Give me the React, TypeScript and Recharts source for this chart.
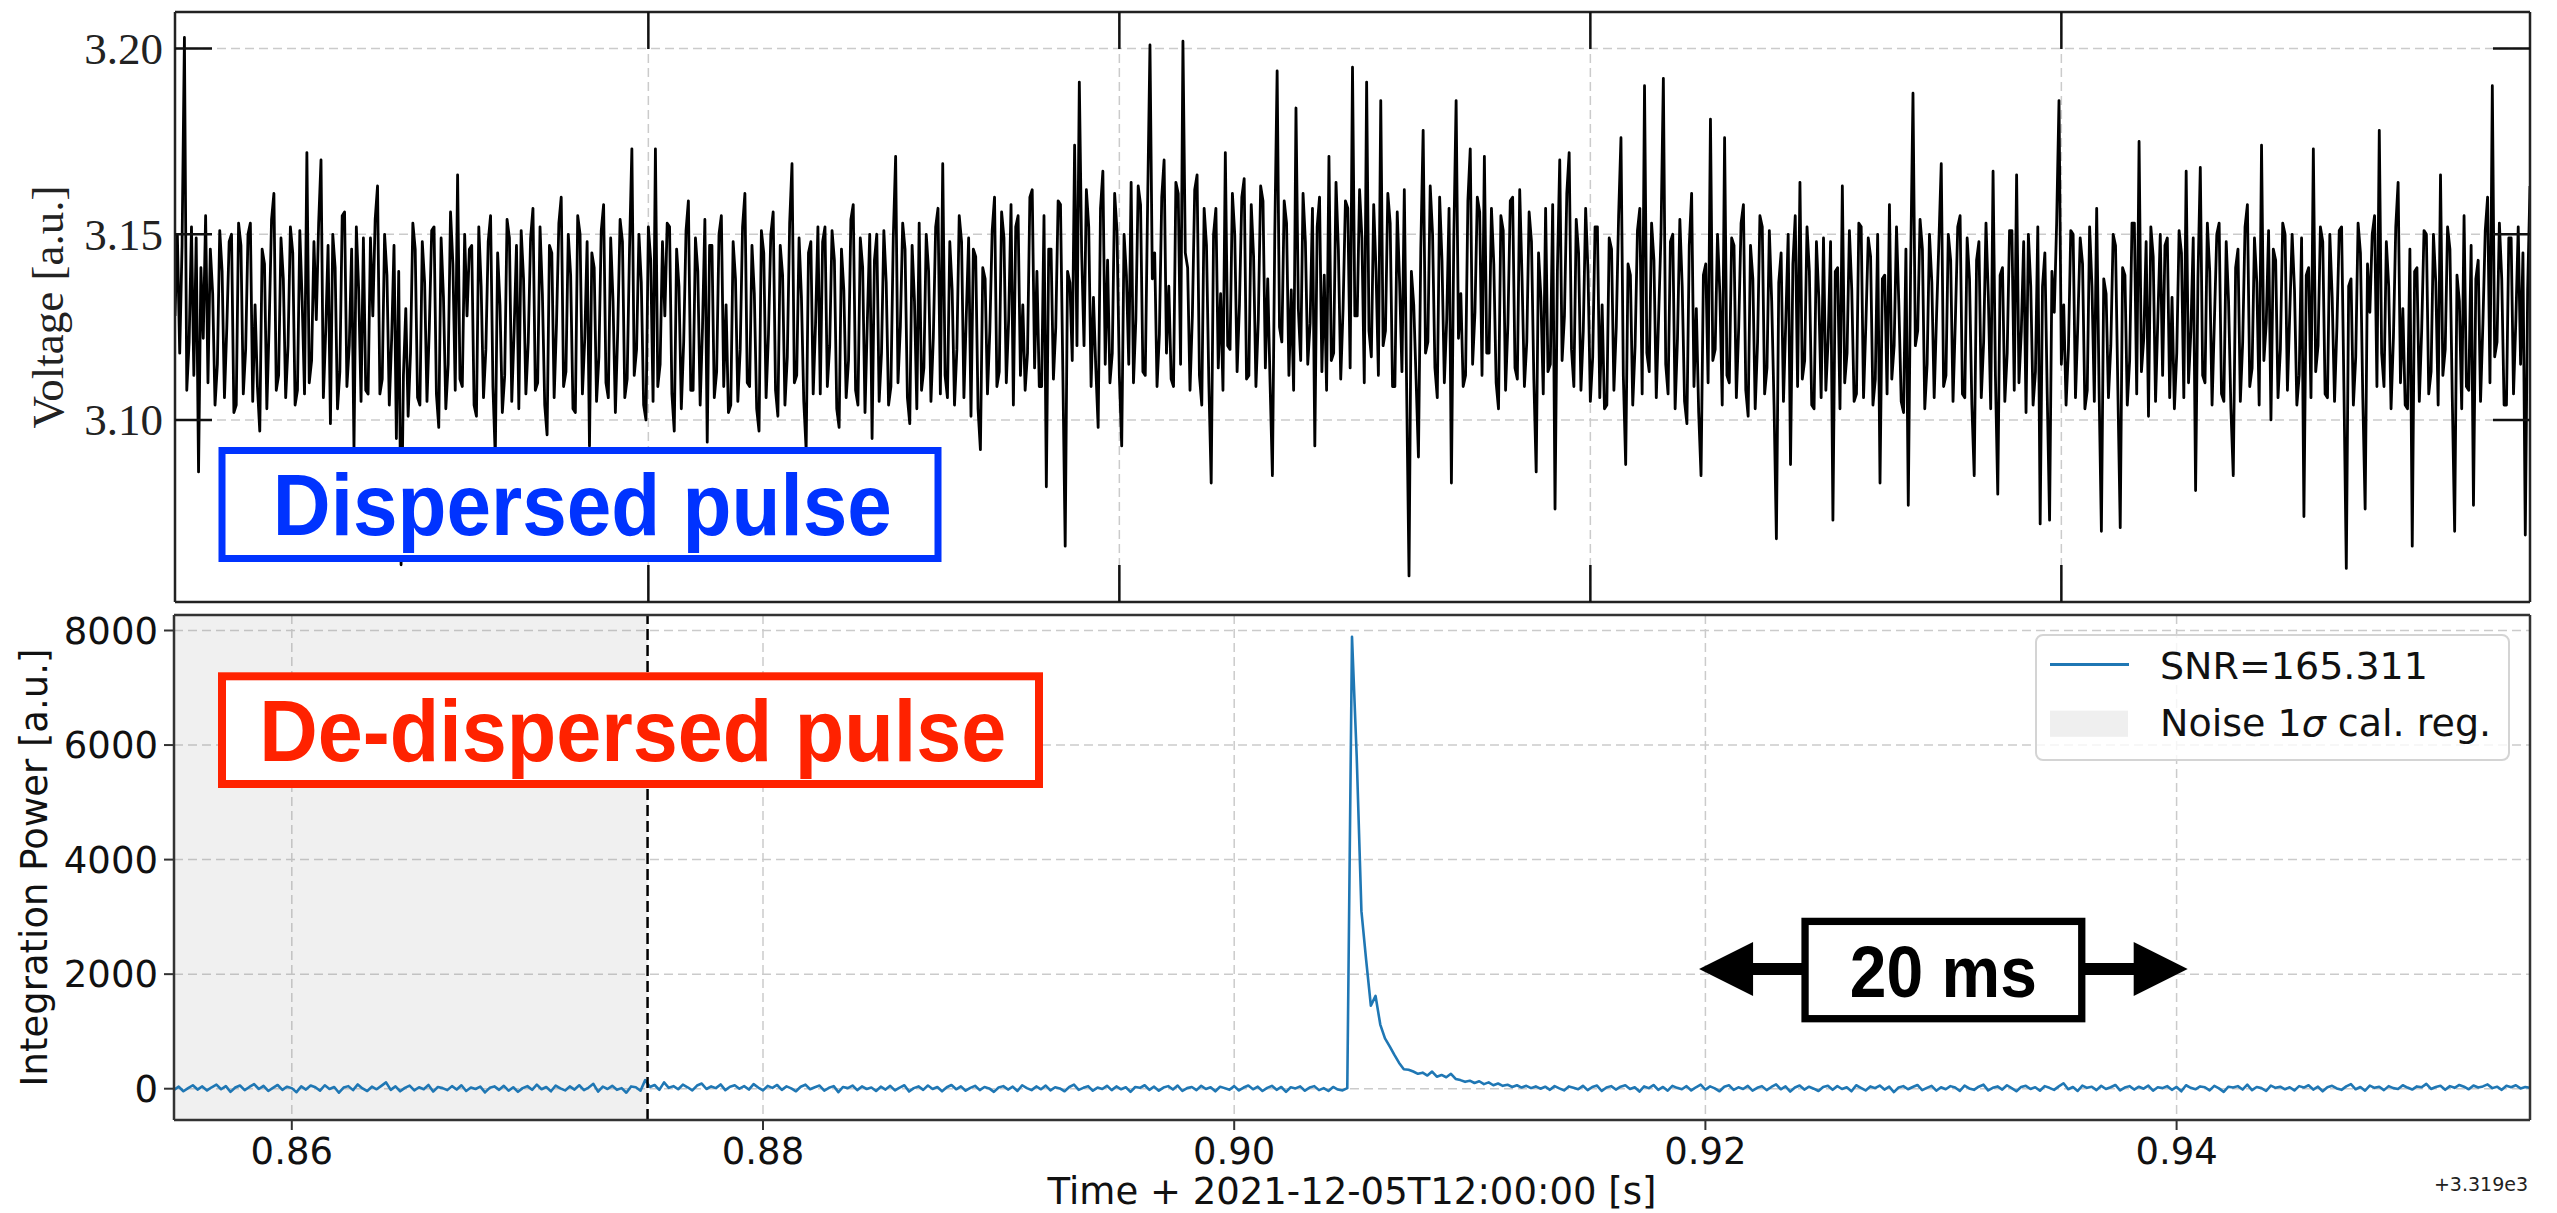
import React from "react";
import {
  LineChart,
  Line,
  XAxis,
  YAxis,
  CartesianGrid,
  ReferenceArea,
  ReferenceLine,
  Legend,
} from "recharts";

// sample grid shared by both panels (seconds after 3319 s)
const T_START = 0.855;
const T_STEP = 0.0002;

// top panel: raw voltage, dispersed pulse (samples on the T_STEP grid)
const voltage = [
  3.128, 3.118, 3.203, 3.121, 3.112, 3.086, 3.122, 3.110, 3.134, 3.115, 3.140, 3.125, 3.150, 3.104, 3.147, 3.119, 3.153, 3.131, 3.097, 3.142, 3.126, 3.161, 3.112, 3.138, 3.120,
  3.145, 3.108, 3.132, 3.172, 3.116, 3.127, 3.170, 3.124, 3.099, 3.141, 3.113, 3.156, 3.120, 3.092, 3.135, 3.149, 3.107, 3.128, 3.163, 3.111, 3.139, 3.122, 3.095, 3.061, 3.130,
  3.118, 3.146, 3.104, 3.137, 3.125, 3.152, 3.098, 3.133, 3.115, 3.142, 3.166, 3.109, 3.128, 3.147, 3.101, 3.136, 3.119, 3.155, 3.090, 3.131, 3.112, 3.149, 3.124, 3.103, 3.138,
  3.121, 3.157, 3.110, 3.134, 3.096, 3.145, 3.126, 3.160, 3.113, 3.139, 3.102, 3.150, 3.122, 3.093, 3.141, 3.117, 3.158, 3.106, 3.132, 3.124, 3.148, 3.111, 3.173, 3.119, 3.137,
  3.100, 3.143, 3.173, 3.115, 3.128, 3.152, 3.097, 3.136, 3.121, 3.159, 3.108, 3.140, 3.125, 3.094, 3.147, 3.113, 3.155, 3.131, 3.104, 3.138, 3.119, 3.161, 3.109, 3.134, 3.097,
  3.145, 3.123, 3.156, 3.101, 3.139, 3.117, 3.169, 3.112, 3.133, 3.092, 3.148, 3.126, 3.107, 3.152, 3.120, 3.143, 3.098, 3.135, 3.116, 3.158, 3.104, 3.141, 3.127, 3.095, 3.150,
  3.118, 3.137, 3.109, 3.171, 3.125, 3.146, 3.099, 3.132, 3.153, 3.114, 3.140, 3.122, 3.157, 3.169, 3.106, 3.135, 3.119, 3.148, 3.128, 3.101, 3.144, 3.092, 3.138, 3.124, 3.160,
  3.113, 3.149, 3.127, 3.104, 3.155, 3.131, 3.118, 3.162, 3.140, 3.109, 3.082, 3.146, 3.125, 3.158, 3.066, 3.137, 3.174, 3.191, 3.120, 3.152, 3.133, 3.098, 3.167, 3.143, 3.118,
  3.151, 3.093, 3.139, 3.164, 3.127, 3.158, 3.112, 3.201, 3.145, 3.123, 3.170, 3.136, 3.109, 3.161, 3.202, 3.141, 3.128, 3.166, 3.104, 3.147, 3.083, 3.157, 3.134, 3.172, 3.119,
  3.150, 3.131, 3.165, 3.112, 3.144, 3.127, 3.159, 3.138, 3.085, 3.194, 3.121, 3.153, 3.135, 3.184, 3.116, 3.148, 3.126, 3.093, 3.160, 3.139, 3.171, 3.118, 3.146, 3.130, 3.157,
  3.195, 3.128, 3.149, 3.191, 3.117, 3.140, 3.186, 3.124, 3.153, 3.109, 3.137, 3.162, 3.058, 3.131, 3.090, 3.178, 3.121, 3.150, 3.106, 3.143, 3.127, 3.083, 3.186, 3.134, 3.112,
  3.173, 3.129, 3.156, 3.171, 3.118, 3.142, 3.103, 3.151, 3.126, 3.160, 3.111, 3.138, 3.121, 3.148, 3.086, 3.133, 3.157, 3.115, 3.076, 3.170, 3.128, 3.172, 3.109, 3.145, 3.124,
  3.140, 3.117, 3.152, 3.131, 3.104, 3.146, 3.125, 3.176, 3.088, 3.139, 3.120, 3.157, 3.190, 3.113, 3.143, 3.128, 3.192, 3.107, 3.150, 3.122, 3.136, 3.099, 3.161, 3.130, 3.085,
  3.142, 3.181, 3.119, 3.134, 3.176, 3.110, 3.147, 3.125, 3.158, 3.101, 3.138, 3.121, 3.152, 3.114, 3.132, 3.068, 3.145, 3.127, 3.088, 3.155, 3.164, 3.116, 3.140, 3.103, 3.133,
  3.149, 3.122, 3.073, 3.141, 3.163, 3.118, 3.135, 3.107, 3.152, 3.126, 3.144, 3.111, 3.083, 3.139, 3.158, 3.120, 3.131, 3.102, 3.077, 3.188, 3.124, 3.146, 3.115, 3.137, 3.128,
  3.169, 3.112, 3.143, 3.127, 3.155, 3.106, 3.138, 3.085, 3.148, 3.121, 3.133, 3.167, 3.080, 3.141, 3.118, 3.151, 3.166, 3.124, 3.102, 3.136, 3.113, 3.072, 3.145, 3.073, 3.129,
  3.186, 3.131, 3.119, 3.150, 3.126, 3.142, 3.108, 3.136, 3.157, 3.070, 3.134, 3.120, 3.147, 3.071, 3.139, 3.116, 3.153, 3.175, 3.122, 3.101, 3.144, 3.128, 3.112, 3.149, 3.133,
  3.118, 3.145, 3.167, 3.124, 3.081, 3.168, 3.110, 3.140, 3.127, 3.153, 3.105, 3.132, 3.085, 3.146, 3.121, 3.158, 3.114, 3.137, 3.174, 3.126, 3.100, 3.143, 3.119, 3.150, 3.129,
  3.135, 3.112, 3.074, 3.141, 3.173, 3.120, 3.148, 3.106, 3.133, 3.125, 3.152, 3.060, 3.138, 3.117, 3.145, 3.076, 3.129, 3.155, 3.178, 3.109, 3.136, 3.122, 3.164, 3.130, 3.103,
  3.066, 3.141, 3.124, 3.150, 3.113, 3.137, 3.166, 3.119, 3.146, 3.070, 3.132, 3.155, 3.108, 3.077, 3.143, 3.126, 3.160, 3.190, 3.121, 3.138, 3.104, 3.149, 3.127, 3.115, 3.069, 3.163,
];

// voltage samples that fall half a step after each of the above (the dense band)
const voltageMid = [
  3.150, 3.147, 3.108, 3.152, 3.149, 3.141, 3.155, 3.146, 3.104, 3.151, 3.106, 3.148, 3.102, 3.153, 3.107, 3.150, 3.105, 3.109, 3.146, 3.103, 3.154, 3.108, 3.149, 3.106, 3.152,
  3.104, 3.151, 3.107, 3.110, 3.148, 3.153, 3.106, 3.147, 3.150, 3.103, 3.155, 3.109, 3.146, 3.152, 3.105, 3.108, 3.149, 3.154, 3.107, 3.150, 3.104, 3.147, 3.140, 3.112, 3.101,
  3.153, 3.106, 3.148, 3.105, 3.151, 3.107, 3.149, 3.103, 3.156, 3.108, 3.111, 3.150, 3.146, 3.104, 3.152, 3.106, 3.148, 3.109, 3.145, 3.102, 3.154, 3.105, 3.147, 3.151, 3.107,
  3.149, 3.108, 3.152, 3.104, 3.147, 3.106, 3.153, 3.109, 3.150, 3.103, 3.155, 3.107, 3.148, 3.145, 3.105, 3.151, 3.110, 3.149, 3.102, 3.154, 3.106, 3.146, 3.112, 3.150, 3.104,
  3.152, 3.105, 3.109, 3.148, 3.153, 3.107, 3.146, 3.103, 3.151, 3.108, 3.149, 3.104, 3.154, 3.147, 3.106, 3.150, 3.109, 3.102, 3.148, 3.105, 3.152, 3.110, 3.147, 3.103, 3.151,
  3.106, 3.150, 3.108, 3.147, 3.104, 3.153, 3.110, 3.149, 3.105, 3.145, 3.107, 3.152, 3.148, 3.109, 3.151, 3.103, 3.146, 3.106, 3.154, 3.108, 3.149, 3.102, 3.150, 3.143, 3.105,
  3.151, 3.104, 3.149, 3.110, 3.153, 3.106, 3.147, 3.103, 3.108, 3.150, 3.105, 3.152, 3.107, 3.112, 3.148, 3.104, 3.155, 3.106, 3.149, 3.146, 3.103, 3.141, 3.107, 3.151, 3.109,
  3.156, 3.110, 3.158, 3.152, 3.112, 3.108, 3.160, 3.114, 3.109, 3.155, 3.146, 3.111, 3.159, 3.113, 3.140, 3.116, 3.120, 3.145, 3.162, 3.109, 3.114, 3.157, 3.115, 3.110, 3.161,
  3.112, 3.150, 3.115, 3.110, 3.163, 3.113, 3.158, 3.138, 3.109, 3.160, 3.118, 3.111, 3.164, 3.115, 3.145, 3.108, 3.162, 3.112, 3.157, 3.110, 3.150, 3.114, 3.108, 3.120, 3.161,
  3.113, 3.160, 3.111, 3.158, 3.109, 3.163, 3.114, 3.110, 3.150, 3.125, 3.159, 3.112, 3.108, 3.130, 3.161, 3.115, 3.157, 3.152, 3.113, 3.108, 3.116, 3.164, 3.111, 3.159, 3.114,
  3.128, 3.162, 3.110, 3.124, 3.158, 3.112, 3.120, 3.161, 3.109, 3.156, 3.113, 3.108, 3.140, 3.111, 3.146, 3.118, 3.163, 3.114, 3.160, 3.110, 3.157, 3.148, 3.122, 3.109, 3.159,
  3.115, 3.160, 3.112, 3.118, 3.157, 3.110, 3.155, 3.108, 3.159, 3.114, 3.162, 3.109, 3.156, 3.111, 3.145, 3.107, 3.113, 3.158, 3.140, 3.116, 3.161, 3.119, 3.154, 3.108, 3.157,
  3.105, 3.152, 3.106, 3.103, 3.149, 3.108, 3.155, 3.112, 3.142, 3.104, 3.151, 3.107, 3.118, 3.153, 3.106, 3.150, 3.115, 3.148, 3.103, 3.154, 3.105, 3.147, 3.109, 3.102, 3.139,
  3.110, 3.116, 3.150, 3.104, 3.112, 3.149, 3.106, 3.153, 3.108, 3.147, 3.103, 3.155, 3.107, 3.151, 3.104, 3.137, 3.105, 3.150, 3.142, 3.109, 3.111, 3.152, 3.104, 3.148, 3.106,
  3.108, 3.148, 3.140, 3.103, 3.110, 3.151, 3.105, 3.153, 3.106, 3.149, 3.104, 3.150, 3.138, 3.107, 3.111, 3.152, 3.105, 3.146, 3.141, 3.120, 3.154, 3.103, 3.150, 3.106, 3.148,
  3.109, 3.150, 3.105, 3.152, 3.107, 3.149, 3.104, 3.143, 3.106, 3.153, 3.103, 3.112, 3.139, 3.105, 3.151, 3.108, 3.110, 3.148, 3.150, 3.104, 3.152, 3.136, 3.107, 3.140, 3.153,
  3.115, 3.104, 3.151, 3.106, 3.149, 3.103, 3.152, 3.105, 3.109, 3.138, 3.106, 3.150, 3.108, 3.141, 3.104, 3.153, 3.107, 3.113, 3.148, 3.152, 3.105, 3.150, 3.147, 3.106, 3.103,
  3.151, 3.106, 3.110, 3.149, 3.138, 3.112, 3.153, 3.104, 3.150, 3.107, 3.148, 3.103, 3.141, 3.105, 3.152, 3.109, 3.149, 3.104, 3.116, 3.151, 3.146, 3.106, 3.153, 3.108, 3.150,
  3.104, 3.149, 3.139, 3.106, 3.113, 3.152, 3.107, 3.150, 3.105, 3.151, 3.108, 3.136, 3.104, 3.153, 3.106, 3.142, 3.150, 3.109, 3.118, 3.148, 3.103, 3.152, 3.110, 3.104, 3.146,
  3.140, 3.105, 3.151, 3.107, 3.150, 3.104, 3.112, 3.152, 3.106, 3.139, 3.103, 3.109, 3.147, 3.138, 3.105, 3.151, 3.110, 3.117, 3.153, 3.104, 3.149, 3.107, 3.152, 3.145, 3.135,
];

// bottom panel: integrated power after de-dispersion
const power = [
  -20, 35, -45, 10, 60, -15, 40, -30, 25, 70, -10, 45, -55, 20, 55, -25, 30, 80, -5, 50, -40, 15, 65, -20, 35,
  10, -60, 40, -15, 55, 25, -35, 60, -5, 30, -70, 20, 45, -25, 75, 5, -40, 35, -10, 50, 110, -20, 40, -45, 15,
  55, -30, 25, -10, 65, -50, 30, 10, -25, 45, -15, 60, -40, 20, -5, 35, -65, 15, 40, -20, 50, -35, 25, -55, 10,
  45, -20, 70, -10, 30, -45, 55, 5, -30, 40, -15, 60, -25, 20, 85, -50, 35, -5, 50, -20, 10, -70, 40, 25, -35,
  150, 30, 65, -20, 110, 15, 45, -10, 70, 25, -30, 55, 90, -5, 40, 10, 75, -25, 35, 60, 0, 45, -15, 80, 20,
  -30, 50, 15, 65, -20, 40, 5, -45, 35, 70, -10, 25, 55, -35, 15, 45, -60, 30, 10, 55, -25, 40, -5, 20, -40,
  35, -15, 50, -30, 20, 60, -50, 10, 40, -20, 55, -5, 30, -45, 25, 65, -10, 40, -35, 15, 50, -25, 30, 5, -55,
  20, 45, -15, 35, -40, 60, 10, -25, 40, -10, 55, -30, 25, 5, -45, 30, 70, -20, 15, 45, -35, 20, -5, 50, -25,
  40, -10, 25, -55, 30, 15, 60, -20, 35, -35, 20, 45, -15, 55, -40, 10, 30, -25, 50, -5, 25, -45, 35, 10, -20,
  45, -30, 20, 55, -10, 35, -40, 15, 50, -20, 30, -55, 25, 5, 40, -35, 20, 45, -25, 10, -40, 30, -15, -30, 10,
  7890, 5800, 3100, 2250, 1450, 1620, 1120, 880, 740, 590, 450, 340, 330, 300, 260, 280, 230, 300, 210, 240, 200, 260, 170, 150, 120,
  140, 100, 130, 80, 110, 60, 90, 50, 70, 30, 60, 20, 50, 10, 40, 0, 35, -20, 45, 5, -30, 40, 15, -10, 50,
  -25, 30, 55, -40, 20, 45, -15, 35, 60, -5, 25, -50, 40, 10, 65, -20, 30, -35, 50, 15, -10, 45, -30, 25, 70,
  -15, 40, 5, -45, 35, 60, -20, 25, -5, 50, -35, 15, 45, -25, 30, 75, -10, 40, -50, 20, 55, -15, 35, 0, -40,
  30, 50, -20, 45, -5, 25, -45, 60, 15, -30, 40, 10, 55, -15, 35, -60, 20, 45, -10, 30, 65, -25, 15, 50, -35,
  25, -10, 45, 20, -40, 55, 5, -20, 35, 70, -30, 15, 40, -15, 60, 10, -45, 30, 50, -5, 25, -35, 45, 15, -20,
  40, 95, -10, 30, -40, 55, 15, 35, -25, 50, -5, 25, 65, -30, 20, 45, -15, 35, 0, 55, -35, 25, 10, 45, -20,
  30, -45, 60, 15, -10, 40, 25, -30, 50, 5, -55, 35, 20, 45, -15, 70, -25, 30, 10, -40, 55, 15, 35, -10, 25,
  -30, 45, 20, 60, -15, 35, -45, 25, 50, 5, -20, 40, 80, -10, 30, -35, 55, 15, 35, -25, 45, 10, -5, 60, 20,
  -15, 40, 25, 85, -5, 30, 50, -20, 45, 15, 65, 35, -10, 55, 20, 40, 75, 10, 35, -20, 50, 25, 60, 5, 30, 15,
];

const topTicksX = [0.8751, 0.8951, 0.9151, 0.9351];
const topTicksY = [3.1, 3.15, 3.2];
const bottomTicksX = [0.86, 0.88, 0.9, 0.92, 0.94];
const bottomTicksY = [0, 2000, 4000, 6000, 8000];
const noiseRegion = [0.855, 0.8751];
const scaleBarX = [0.91973, 0.94047]; // the "20 ms" marker
const scaleBarY = 2090;
const SNR = 165.311;

const topData = voltage.flatMap((v, i) => {
  const rows = [{ t: T_START + i * T_STEP, v }];
  if (i < voltageMid.length) rows.push({ t: T_START + (i + 0.5) * T_STEP, v: voltageMid[i] });
  return rows;
});
const bottomData = power.map((p, i) => ({ t: T_START + i * T_STEP, p }));

const serif = "'Liberation Serif', 'Times New Roman', serif";
const sans = "'DejaVu Sans', sans-serif";
const boldSans = "'Liberation Sans', Arial, sans-serif";
const BLUE = "#0033ff";
const RED = "#ff2200";
const GRID = "#cbcbcb";

// top panel ticks: long and pointing inwards, labels outside
function VoltLeftTick({ x, y, payload }: any) {
  return (
    <g>
      <line x1={x} x2={x + 37} y1={y} y2={y} stroke="#111" strokeWidth={2.5} />
      <text x={x - 12} y={y} dy="0.34em" textAnchor="end" fontFamily={serif} fontSize={45} fill="#222">
        {Number(payload.value).toFixed(2)}
      </text>
    </g>
  );
}
function VoltRightTick({ x, y }: any) {
  return <line x1={x - 37} x2={x} y1={y} y2={y} stroke="#111" strokeWidth={2.5} />;
}
function TimeTopTick({ x, y }: any) {
  return <line x1={x} x2={x} y1={y} y2={y + 37} stroke="#111" strokeWidth={2.5} />;
}
function TimeBottomTick({ x, y }: any) {
  return <line x1={x} x2={x} y1={y - 37} y2={y} stroke="#111" strokeWidth={2.5} />;
}

// double arrow with the boxed "20 ms" in the middle
function ScaleBar(props: any) {
  const { x1, x2, y1 } = props;
  const y = y1;
  const mid = (x1 + x2) / 2;
  const head = 54;
  const half = 27;
  return (
    <g>
      <line x1={x1 + head - 1} x2={x2 - head + 1} y1={y} y2={y} stroke="#000" strokeWidth={12} />
      <polygon points={`${x1},${y} ${x1 + head},${y - half} ${x1 + head},${y + half}`} fill="#000" />
      <polygon points={`${x2},${y} ${x2 - head},${y - half} ${x2 - head},${y + half}`} fill="#000" />
      <rect x={mid - 138.3} y={y - 47.6} width={276.7} height={97.3} fill="#fff" stroke="#000" strokeWidth={7.3} />
      <text
        x={mid}
        y={y + 27.7}
        textAnchor="middle"
        fontFamily={boldSans}
        fontWeight={700}
        fontSize={73}
        fill="#000"
        textLength={187}
        lengthAdjust="spacingAndGlyphs"
      >
        20 ms
      </text>
    </g>
  );
}

function LegendBox({ payload }: any) {
  const name = payload && payload[0] ? payload[0].value : `SNR=${SNR}`;
  return (
    <div
      style={{
        width: 475,
        height: 127,
        boxSizing: "border-box",
        border: "2px solid #d4d4d4",
        borderRadius: 8,
        background: "rgba(255,255,255,0.8)",
        position: "relative",
      }}
    >
      <svg width={475} height={127} style={{ position: "absolute", left: -2, top: -2 }}>
        <line x1={15} x2={94} y1={30.5} y2={30.5} stroke="#1f77b4" strokeWidth={3} />
        <rect x={15} y={76.6} width={78} height={26.2} fill="#efefef" />
        <text x={125} y={45} fontFamily={sans} fontSize={38} fill="#111">
          {name}
        </text>
        <text x={125} y={101.5} fontFamily={sans} fontSize={38} fill="#111">
          Noise 1<tspan fontStyle="italic">σ</tspan> cal. reg.
        </text>
      </svg>
    </div>
  );
}

export default function App() {
  return (
    <div
      style={{
        position: "absolute",
        left: 0,
        top: 0,
        width: 2557,
        height: 1213,
        overflow: "hidden",
        background: "#fff",
      }}
    >
      {/* TOP: dispersed pulse */}
      <div style={{ position: "absolute", left: 0, top: 0 }}>
        <LineChart width={2557} height={615} data={topData} margin={{ top: 11, right: 26, bottom: 12, left: 0 }}>
          <CartesianGrid stroke={GRID} strokeDasharray="9 5" strokeWidth={1.5} />
          <XAxis
            dataKey="t"
            type="number"
            domain={[0.855, 0.955]}
            allowDataOverflow
            ticks={topTicksX}
            height={1}
            tickSize={0}
            tickMargin={0}
            tickLine={false}
            tick={<TimeBottomTick />}
            axisLine={{ stroke: "#222", strokeWidth: 2.5 }}
          />
          <XAxis
            xAxisId="t"
            orientation="top"
            dataKey="t"
            type="number"
            domain={[0.855, 0.955]}
            allowDataOverflow
            ticks={topTicksX}
            height={1}
            tickSize={0}
            tickMargin={0}
            tickLine={false}
            tick={<TimeTopTick />}
            axisLine={{ stroke: "#222", strokeWidth: 2.5 }}
          />
          <YAxis
            type="number"
            domain={[3.05097, 3.20986]}
            allowDataOverflow
            ticks={topTicksY}
            width={175}
            tickSize={0}
            tickMargin={0}
            tickLine={false}
            tick={<VoltLeftTick />}
            axisLine={{ stroke: "#222", strokeWidth: 2.5 }}
            label={{
              value: "Voltage [a.u.]",
              angle: -90,
              position: "insideLeft",
              offset: 47,
              fontFamily: serif,
              fontSize: 45,
              fill: "#222",
              style: { textAnchor: "middle" },
            }}
          />
          <YAxis
            yAxisId="r"
            orientation="right"
            type="number"
            domain={[3.05097, 3.20986]}
            allowDataOverflow
            ticks={topTicksY}
            width={1}
            tickSize={0}
            tickMargin={0}
            tickLine={false}
            tick={<VoltRightTick />}
            axisLine={{ stroke: "#222", strokeWidth: 2.5 }}
          />
          <Line
            dataKey="v"
            stroke="#000"
            strokeWidth={2.8}
            strokeLinejoin="round"
            dot={false}
            activeDot={false}
            isAnimationActive={false}
          />
          <Line
            xAxisId="t"
            yAxisId="r"
            dataKey="v"
            stroke="none"
            dot={false}
            activeDot={false}
            legendType="none"
            isAnimationActive={false}
          />
        </LineChart>
      </div>

      {/* BOTTOM: de-dispersed pulse */}
      <div style={{ position: "absolute", left: 0, top: 600 }}>
        <LineChart width={2557} height={613} data={bottomData} margin={{ top: 14, right: 26, bottom: 0, left: 0 }}>
          <CartesianGrid stroke={GRID} strokeDasharray="9 5" strokeWidth={1.5} />
          <ReferenceArea x1={noiseRegion[0]} x2={noiseRegion[1]} fill="#808080" fillOpacity={0.12} stroke="none" />
          <XAxis
            dataKey="t"
            type="number"
            domain={[0.855, 0.955]}
            allowDataOverflow
            ticks={bottomTicksX}
            tickFormatter={(v: number) => v.toFixed(2)}
            height={93}
            tickSize={10}
            tickMargin={8}
            tickLine={{ stroke: "#333", strokeWidth: 2 }}
            axisLine={{ stroke: "#333", strokeWidth: 2.5 }}
            tick={{ fontFamily: sans, fontSize: 37, fill: "#111" }}
            label={{
              value: "Time + 2021-12-05T12:00:00 [s]",
              position: "insideBottom",
              offset: 9,
              fontFamily: sans,
              fontSize: 37,
              fill: "#111",
            }}
          />
          <XAxis
            xAxisId="top"
            orientation="top"
            type="number"
            domain={[0.855, 0.955]}
            allowDataOverflow
            height={1}
            tick={false}
            tickLine={false}
            axisLine={{ stroke: "#333", strokeWidth: 2.5 }}
          />
          <YAxis
            type="number"
            domain={[-546.5, 8270.6]}
            allowDataOverflow
            ticks={bottomTicksY}
            width={174}
            tickSize={10}
            tickMargin={6}
            tickLine={{ stroke: "#333", strokeWidth: 2 }}
            axisLine={{ stroke: "#333", strokeWidth: 2.5 }}
            tick={{ fontFamily: sans, fontSize: 37, fill: "#111" }}
            label={{
              value: "Integration Power [a.u.]",
              angle: -90,
              position: "insideLeft",
              offset: 34,
              fontFamily: sans,
              fontSize: 37,
              fill: "#111",
              style: { textAnchor: "middle" },
            }}
          />
          <YAxis
            yAxisId="right"
            orientation="right"
            type="number"
            domain={[-546.5, 8270.6]}
            allowDataOverflow
            width={1}
            tick={false}
            tickLine={false}
            axisLine={{ stroke: "#333", strokeWidth: 2.5 }}
          />
          <Line
            dataKey="p"
            name={`SNR=${SNR}`}
            stroke="#1f77b4"
            strokeWidth={2.6}
            strokeLinejoin="round"
            dot={false}
            activeDot={false}
            isAnimationActive={false}
          />
          <ReferenceLine x={noiseRegion[1]} stroke="#000" strokeWidth={2.5} strokeDasharray="11 5" />
          <ReferenceLine
            segment={[
              { x: scaleBarX[0], y: scaleBarY },
              { x: scaleBarX[1], y: scaleBarY },
            ]}
            shape={ScaleBar}
          />
          <Legend
            layout="horizontal"
            verticalAlign="middle"
            align="center"
            content={(p: any) => <LegendBox {...p} />}
            wrapperStyle={{ top: 34, left: 2035, width: 475 }}
          />
        </LineChart>
      </div>

      {/* annotations */}
      <svg width={2557} height={1213} style={{ position: "absolute", left: 0, top: 0, pointerEvents: "none" }}>
        <rect x={222} y={450.5} width={716} height={108} fill="#fff" stroke={BLUE} strokeWidth={7} />
        <text
          x={272.8}
          y={535}
          fontFamily={boldSans}
          fontWeight={700}
          fontSize={87}
          fill={BLUE}
          textLength={619}
          lengthAdjust="spacingAndGlyphs"
        >
          Dispersed pulse
        </text>
        <rect x={222} y={676.3} width={817} height={107.7} fill="#fff" stroke={RED} strokeWidth={8} />
        <text
          x={259.3}
          y={761}
          fontFamily={boldSans}
          fontWeight={700}
          fontSize={87.5}
          fill={RED}
          textLength={747}
          lengthAdjust="spacingAndGlyphs"
        >
          De-dispersed pulse
        </text>
        <text x={2528} y={1191} textAnchor="end" fontFamily={sans} fontSize={19} fill="#222">
          +3.319e3
        </text>
      </svg>
    </div>
  );
}
